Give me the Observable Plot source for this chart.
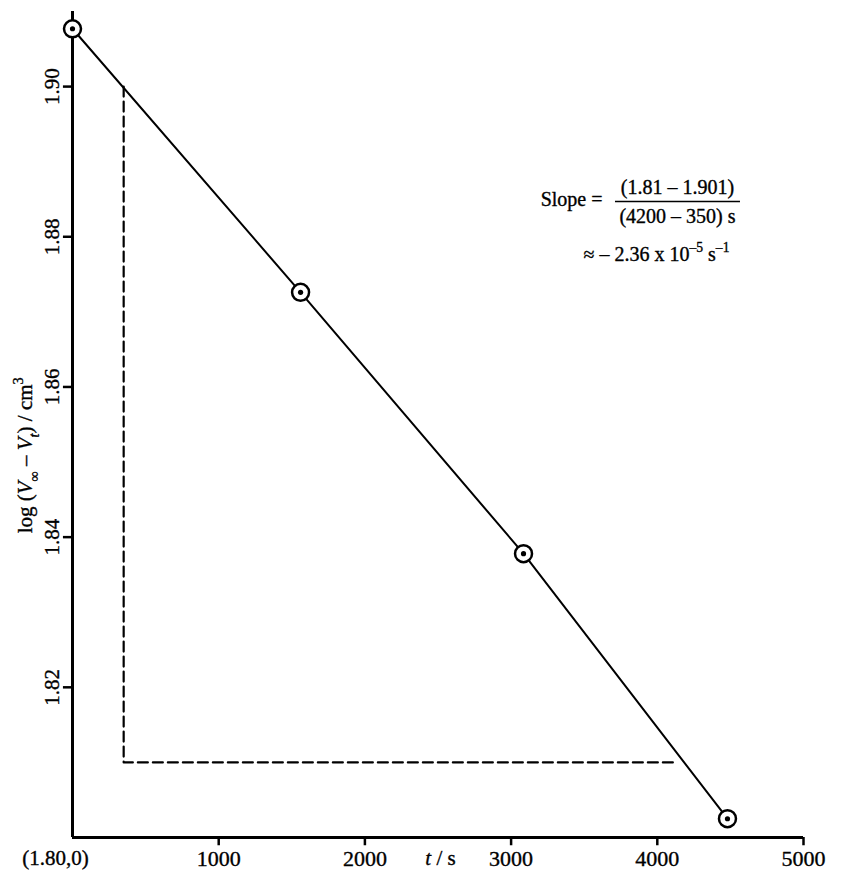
<!DOCTYPE html>
<html>
<head>
<meta charset="utf-8">
<script src="https://cdn.jsdelivr.net/npm/d3@7"></script>
<script src="https://cdn.jsdelivr.net/npm/@observablehq/plot@0.6"></script>
<style>
  html, body { margin: 0; padding: 0; background: white; }
</style>
</head>
<body>
<script>
// ---- data ----
const tSec = [0, 1560, 3085, 4480];
const logV = [1.9077, 1.8726, 1.8378, 1.8025];

// slope-construction (dashed) path
const dashT = [350, 350, 4110];
const dashLog = [1.90, 1.81, 1.81];

// ticks
const xTicks = [1000, 2000, 3000, 4000, 5000];
const xTickLabels = ["1000", "2000", "3000", "4000", "5000"];
const yTicks = [1.82, 1.84, 1.86, 1.88, 1.90];
const yTickLabels = ["1.82", "1.84", "1.86", "1.88", "1.90"];

const points = tSec.map((t, i) => ({t, v: logV[i]}));
const dash = dashT.map((t, i) => ({t, v: dashLog[i]}));

const FONT = "Liberation Serif, Times New Roman, serif";
const FS = 21;
const SW = 0.35; // slight text stroke to mimic the printed weight

const Y_LABEL = "log (V∞ – Vt) / cm3";
const X_LABEL = "t / s";
const SLOPE_VAL = "≈ – 2.36 x 10-5 s-1";

const txt = (extra) => Object.assign({fill: "black", stroke: "black", strokeWidth: SW}, extra);

const plot = Plot.plot({
  width: 851,
  height: 870,
  marginLeft: 72,
  marginRight: 48,
  marginTop: 11,
  marginBottom: 33,
  style: {fontFamily: FONT, fontSize: FS + "px", background: "white", color: "black"},
  x: {domain: [0, 5000], axis: null},
  y: {domain: [1.80, 1.91], axis: null},
  marks: [
    // axes lines
    Plot.ruleX([0], {y1: 1.80, y2: 1.91, stroke: "black", strokeWidth: 3}),
    Plot.ruleY([1.80], {x1: 0, x2: 5000, stroke: "black", strokeWidth: 3}),
    // y ticks
    Plot.ruleY(yTicks, {x1: -62, x2: 0, stroke: "black", strokeWidth: 2.5}),
    Plot.text(yTicks, txt({x: -137, y: d => d, text: (d, i) => yTickLabels[i], rotate: -90, fontSize: FS})),
    // x ticks
    Plot.ruleX(xTicks, {y1: 1.80, y2: 1.7989, stroke: "black", strokeWidth: 2.5}),
    Plot.text(xTicks, txt({x: d => d, y: 1.80, dy: 21, text: (d, i) => xTickLabels[i], fontSize: 22})),
    Plot.text(["(1.80,0)"], txt({x: -116, y: 1.80, dy: 21, text: d => d, fontSize: FS})),
    Plot.text([X_LABEL], txt({x: 2517, y: 1.80, dy: 21, text: d => d, fontSize: FS})),
    // y label
    Plot.text([Y_LABEL], txt({x: -321, y: 1.8509, text: d => d, rotate: -90, fontSize: FS})),
    // dashed construction
    Plot.line(dash, {x: "t", y: "v", stroke: "black", strokeWidth: 2.2, strokeDasharray: "10,5"}),
    // data line
    Plot.line(points, {x: "t", y: "v", stroke: "black", strokeWidth: 2}),
    Plot.dot(points, {x: "t", y: "v", r: 8.5, fill: "white", stroke: "black", strokeWidth: 2.5}),
    Plot.dot(points, {x: "t", y: "v", r: 2.6, fill: "black", stroke: "none"}),
    // slope annotation
    Plot.text(["Slope ="], txt({x: 3625, y: 1.8850, text: d => d, textAnchor: "end", fontSize: 20})),
    Plot.text(["(1.81 – 1.901)"], txt({x: 4138, y: 1.8866, text: d => d, fontSize: 20})),
    Plot.ruleY([1.8847], {x1: 3714, x2: 4569, stroke: "black", strokeWidth: 1.5}),
    Plot.text(["(4200 – 350) s"], txt({x: 4138, y: 1.8827, text: d => d, fontSize: 20})),
    Plot.text([SLOPE_VAL], txt({x: 3495, y: 1.8776, text: d => d, textAnchor: "start", fontSize: 20}))
  ]
});
document.body.appendChild(plot);

// rich-text (italic / sub / superscript) for a few labels, found by content
function setRich(content, parts, fs) {
  const t = Array.from(plot.querySelectorAll("text")).find(e => e.textContent === content);
  if (!t) return;
  while (t.firstChild) t.removeChild(t.firstChild);
  let shift = 0;
  for (const p of parts) {
    const ts = document.createElementNS("http://www.w3.org/2000/svg", "tspan");
    const target = p.sub ? 0.3 * fs : p.sup ? -0.45 * fs : 0;
    if (target !== shift) { ts.setAttribute("dy", target - shift); shift = target; }
    if (p.sub || p.sup) ts.setAttribute("font-size", 0.68 * fs);
    if (p.it) ts.setAttribute("font-style", "italic");
    ts.textContent = p.t;
    t.appendChild(ts);
  }
}
setRich(Y_LABEL, [
  {t: "log ("}, {t: "V", it: true}, {t: "∞", sub: true}, {t: " – "}, {t: "V", it: true},
  {t: "t", sub: true, it: true}, {t: ") / cm"}, {t: "3", sup: true}
], FS);
setRich(X_LABEL, [{t: "t", it: true}, {t: " / s"}], FS);
setRich(SLOPE_VAL, [
  {t: "≈ – 2.36 x 10"}, {t: "–5", sup: true}, {t: " s"}, {t: "–1", sup: true}
], 20);
</script>
</body>
</html>
